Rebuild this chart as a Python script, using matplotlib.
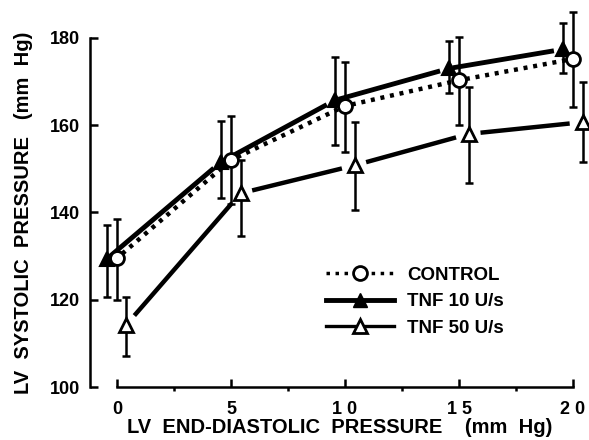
import numpy as np
import matplotlib
matplotlib.use("Agg")
import matplotlib.pyplot as plt
from matplotlib.lines import Line2D

plt.rcParams['font.family'] = ['Liberation Sans', 'DejaVu Sans']
plt.rcParams['font.weight'] = 'bold'

# LV end-diastolic pressure (mm Hg)
edp = np.array([0, 5, 10, 15, 20])

# LV systolic pressure (mm Hg), mean and error bar ends
control = [129.5, 152.0, 164.4, 170.3, 175.2]
control_hi = [138.5, 162.0, 174.5, 180.2, 186.0]
control_lo = [120.0, 142.0, 153.8, 160.0, 164.1]

tnf10 = [129.3, 151.5, 165.7, 173.0, 177.4]
tnf10_hi = [137.2, 160.9, 175.6, 179.3, 183.4]
tnf10_lo = [120.7, 143.4, 155.4, 167.4, 172.0]

tnf50 = [114.3, 144.4, 150.8, 158.0, 160.7]
tnf50_hi = [120.7, 152.0, 160.7, 168.7, 169.9]
tnf50_lo = [107.0, 134.7, 140.5, 146.7, 151.5]

x_ticks = [0, 5, 10, 15, 20]
x_labels = ['0', '5', '1 0', '1 5', '2 0']
y_ticks = [100, 120, 140, 160, 180]


def broken_line(ax, x, y, gap, **kw):
    # connect the points with segments that stop short of each marker
    pts = ax.transData.transform(np.column_stack([x, y]))
    inv = ax.transData.inverted()
    for p0, p1 in zip(pts[:-1], pts[1:]):
        d = p1 - p0
        u = d / np.hypot(*d)
        a = inv.transform(p0 + u * gap[0])
        b = inv.transform(p1 - u * gap[1])
        ax.plot([a[0], b[0]], [a[1], b[1]], color='black', zorder=2, **kw)


fig = plt.figure(figsize=(5.89, 4.40), dpi=100)
ax = fig.add_axes([90 / 589, 53 / 440, 499 / 589, 387 / 440])
ax.set_xlim(-1.18, 20.7)
ax.set_ylim(100, 188.7)

series = [
    (tnf10, tnf10_lo, tnf10_hi, -0.45),
    (control, control_lo, control_hi, 0.0),
    (tnf50, tnf50_lo, tnf50_hi, 0.42),
]
for y, lo, hi, dx in series:
    y = np.array(y)
    err = [y - np.array(lo), np.array(hi) - y]
    ax.errorbar(edp + dx, y, yerr=err, fmt='none', ecolor='black',
                elinewidth=1.8, capsize=3.2, capthick=1.8, zorder=1)

broken_line(ax, edp - 0.45, tnf10, (4, 9), lw=3.5, solid_capstyle='butt')
broken_line(ax, edp, control, (7, 7), lw=3.2, dashes=(0.9, 1.3),
            dash_capstyle='butt')
broken_line(ax, edp + 0.42, tnf50, (12, 13), lw=3.2, solid_capstyle='butt')

ax.plot(edp - 0.45, tnf10, ls='none', marker='^', ms=10, mfc='black',
        mec='black', mew=1.5, zorder=4)
ax.plot(edp, control, ls='none', marker='o', ms=10, mfc='white',
        mec='black', mew=2.0, zorder=4)
ax.plot(edp + 0.42, tnf50, ls='none', marker='^', ms=10, mfc='white',
        mec='black', mew=2.0, zorder=4)

for s in ['top', 'right']:
    ax.spines[s].set_visible(False)
ax.spines['left'].set_bounds(100, 180)
ax.spines['bottom'].set_bounds(0, 20)
ax.spines['left'].set_linewidth(1.8)
ax.spines['bottom'].set_linewidth(1.8)

ax.set_xticks(x_ticks)
ax.set_xticklabels(x_labels)
ax.set_xticks([2.5, 7.5, 12.5, 17.5], minor=True)
ax.set_yticks(y_ticks)
ax.tick_params(axis='both', direction='in', width=1.8, labelsize=13)
ax.tick_params(axis='x', length=6, pad=10)
ax.tick_params(axis='x', which='minor', length=3, width=1.8)
ax.tick_params(axis='y', length=6, pad=7)

ax.set_xlabel('LV  END-DIASTOLIC  PRESSURE    (mm  Hg)', fontsize=14.5,
              fontweight='bold', labelpad=0)
ax.set_ylabel('LV  SYSTOLIC  PRESSURE   (mm  Hg)', fontsize=14.5,
              fontweight='bold')
ax.yaxis.set_label_coords(-0.115, 0.45)

handles = [
    Line2D([], [], color='black', lw=2.5, dashes=(1.0, 1.6), marker='o',
           ms=10, mfc='white', mec='black', mew=2.0),
    Line2D([], [], color='black', lw=3.5, marker='^', ms=10, mfc='black',
           mec='black'),
    Line2D([], [], color='black', lw=2.4, marker='^', ms=10, mfc='white',
           mec='black', mew=2.0),
]
ax.legend(handles, ['CONTROL', 'TNF 10 U/s', 'TNF 50 U/s'],
          loc='upper left', bbox_to_anchor=(0.44, 0.355), frameon=False,
          handlelength=3.6, handletextpad=0.7, labelspacing=0.5,
          prop={'size': 13.5, 'weight': 'bold'})

fig.savefig('out.png', dpi=100)
